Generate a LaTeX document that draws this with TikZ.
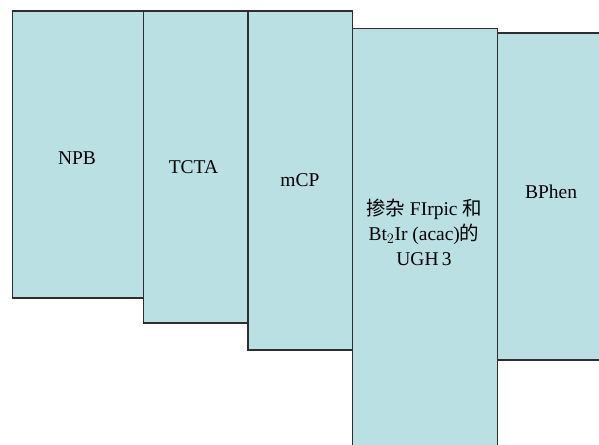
\documentclass[tikz,border=0pt]{standalone}
\usepackage{fontspec}
\setmainfont{Liberation Serif}
\newfontfamily\cjk{Noto Sans CJK SC}
\definecolor{layerfill}{HTML}{BAE0E3}
\definecolor{layeredge}{HTML}{2E2E2E}
\begin{document}
\begin{tikzpicture}[x=1pt,y=-1pt,
  layer/.style={fill=layerfill, inner sep=0pt, outer sep=0pt, anchor=north west, rectangle},
  edge/.style={draw=layeredge, line width=1.6pt},
  lbl/.style={font=\fontsize{19.5}{25}\selectfont, text=black, inner sep=0pt, align=center}]
\useasboundingbox (0,0) rectangle (599,444);
\begin{scope}
\clip (0,0) rectangle (599,444);
\node[layer, minimum width=131pt, minimum height=287pt] (npb) at (12.5,11) {};
\node[layer, minimum width=104.5pt, minimum height=312pt] (tcta) at (143.5,11) {};
\node[layer, minimum width=104.5pt, minimum height=339pt] (mcp) at (248,11) {};
\node[layer, minimum width=145pt, minimum height=420pt] (ugh) at (352.5,28.7) {};
\node[layer, minimum width=110pt, minimum height=326.5pt] (bphen) at (497.5,33.3) {};
\foreach \n in {npb,tcta,mcp,ugh,bphen}
  \draw[edge] (\n.north west) rectangle (\n.south east);
\end{scope}
\node[lbl] (tnpb) at (77,158.5) {NPB};
\node[lbl] (ttcta) at (193.5,167) {TCTA};
\node[lbl] (tmcp) at (300,180) {mCP};
\node[lbl] (tugh) at (424,232) {{\cjk 掺杂} FIrpic {\cjk 和}\\Bt$_2$Ir (acac){\cjk 的}\\UGH\,3};
\node[lbl] (tbphen) at (551,192) {BPhen};
\end{tikzpicture}
\end{document}
